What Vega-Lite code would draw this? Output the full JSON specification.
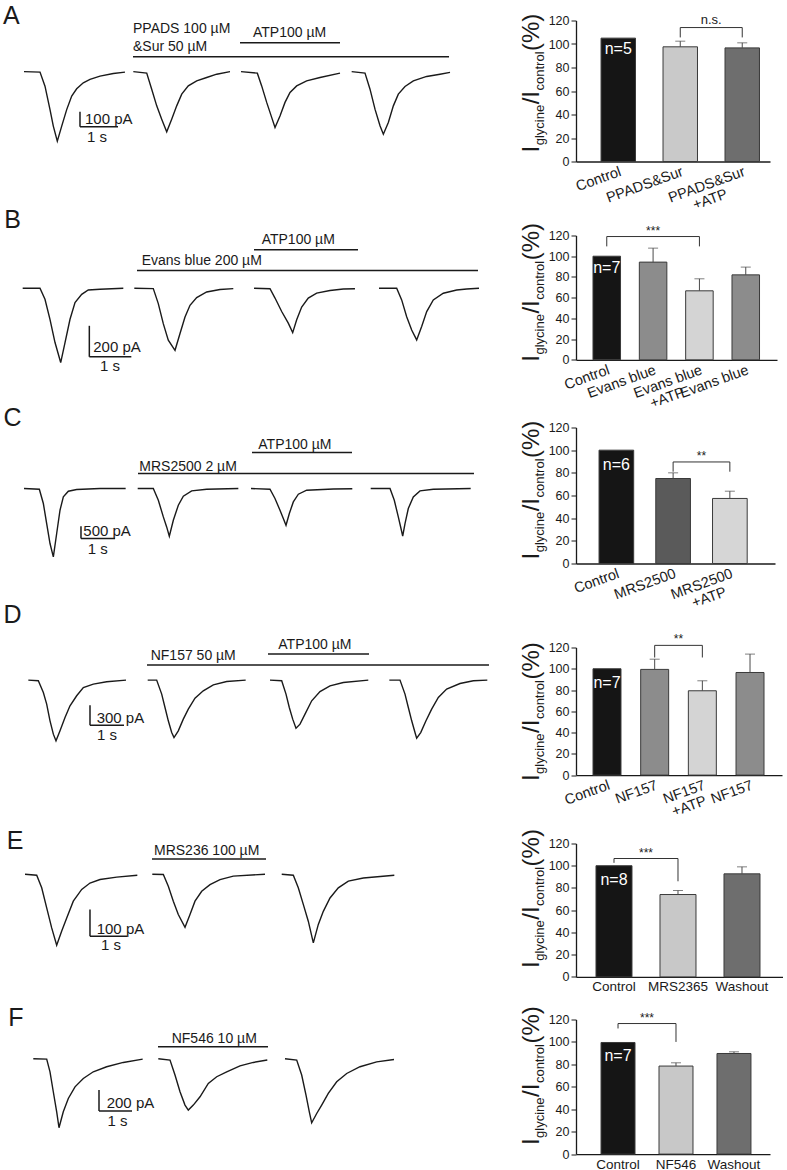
{
"$schema":"https://vega.github.io/schema/vega-lite/v6.json",
"padding":{"left":0,"top":3.5,"right":0,"bottom":0},
"background":"white",
"columns":2,
"spacing":{"row":42,"column":81},
"bounds":"flush",
"align":"each",
"resolve":{"scale":{"color":"independent"}},
"config":{
 "view":{"stroke":null},
 "font":"Liberation Sans",
 "text":{"font":"Liberation Sans","fontSize":14,"color":"#1a1a1a","baseline":"middle","align":"left"},
 "rule":{"color":"#1a1a1a","strokeWidth":1.5},
 "line":{"color":"#1a1a1a","strokeWidth":1.4},
 "axis":{"labelFont":"Liberation Sans","labelColor":"#1a1a1a","domainColor":"#1a1a1a","tickColor":"#1a1a1a","grid":false,"labelOverlap":false}
},
"datasets":{
 "trA":[
  {"sweep":1,"t":0.632,"I":0},{"sweep":1,"t":1.053,"I":-3},{"sweep":1,"t":1.184,"I":-97},{"sweep":1,"t":1.316,"I":-253},{"sweep":1,"t":1.403,"I":-363},{"sweep":1,"t":1.508,"I":-463},{"sweep":1,"t":1.624,"I":-363},{"sweep":1,"t":1.755,"I":-253},{"sweep":1,"t":1.887,"I":-163},{"sweep":1,"t":2.018,"I":-114},{"sweep":1,"t":2.192,"I":-74},{"sweep":1,"t":2.368,"I":-52},{"sweep":1,"t":2.632,"I":-30},{"sweep":1,"t":2.982,"I":-12},{"sweep":1,"t":3.289,"I":-3},
  {"sweep":2,"t":3.508,"I":0},{"sweep":2,"t":3.861,"I":-10},{"sweep":2,"t":3.992,"I":-117},{"sweep":2,"t":4.124,"I":-228},{"sweep":2,"t":4.255,"I":-317},{"sweep":2,"t":4.387,"I":-401},{"sweep":2,"t":4.518,"I":-317},{"sweep":2,"t":4.65,"I":-228},{"sweep":2,"t":4.782,"I":-150},{"sweep":2,"t":4.955,"I":-95},{"sweep":2,"t":5.176,"I":-61},{"sweep":2,"t":5.439,"I":-39},{"sweep":2,"t":5.703,"I":-17},{"sweep":2,"t":6.053,"I":0},
  {"sweep":3,"t":6.342,"I":0},{"sweep":3,"t":6.772,"I":-10},{"sweep":3,"t":6.886,"I":-95},{"sweep":3,"t":7.018,"I":-205},{"sweep":3,"t":7.149,"I":-305},{"sweep":3,"t":7.237,"I":-372},{"sweep":3,"t":7.368,"I":-295},{"sweep":3,"t":7.5,"I":-205},{"sweep":3,"t":7.632,"I":-139},{"sweep":3,"t":7.807,"I":-95},{"sweep":3,"t":8.07,"I":-61},{"sweep":3,"t":8.421,"I":-39},{"sweep":3,"t":8.947,"I":-10},
  {"sweep":4,"t":9.254,"I":0},{"sweep":4,"t":9.605,"I":-10},{"sweep":4,"t":9.737,"I":-117},{"sweep":4,"t":9.868,"I":-250},{"sweep":4,"t":10.0,"I":-361},{"sweep":4,"t":10.088,"I":-417},{"sweep":4,"t":10.219,"I":-339},{"sweep":4,"t":10.351,"I":-228},{"sweep":4,"t":10.482,"I":-150},{"sweep":4,"t":10.658,"I":-99},{"sweep":4,"t":10.877,"I":-61},{"sweep":4,"t":11.228,"I":-32},{"sweep":4,"t":11.579,"I":-17},{"sweep":4,"t":11.842,"I":-5}
 ],
 "trB":[
  {"sweep":1,"t":0.54,"I":0},{"sweep":1,"t":0.952,"I":0},{"sweep":1,"t":1.071,"I":-71},{"sweep":1,"t":1.19,"I":-200},{"sweep":1,"t":1.31,"I":-350},{"sweep":1,"t":1.445,"I":-479},{"sweep":1,"t":1.548,"I":-350},{"sweep":1,"t":1.667,"I":-200},{"sweep":1,"t":1.786,"I":-92},{"sweep":1,"t":1.945,"I":-39},{"sweep":1,"t":2.102,"I":-11},{"sweep":1,"t":2.381,"I":-6},{"sweep":1,"t":2.936,"I":0},
  {"sweep":2,"t":3.198,"I":0},{"sweep":2,"t":3.65,"I":-2},{"sweep":2,"t":3.769,"I":-99},{"sweep":2,"t":3.888,"I":-228},{"sweep":2,"t":4.007,"I":-335},{"sweep":2,"t":4.167,"I":-400},{"sweep":2,"t":4.286,"I":-292},{"sweep":2,"t":4.405,"I":-185},{"sweep":2,"t":4.524,"I":-110},{"sweep":2,"t":4.683,"I":-60},{"sweep":2,"t":4.921,"I":-24},{"sweep":2,"t":5.238,"I":-8},{"sweep":2,"t":5.555,"I":-2},
  {"sweep":3,"t":6.048,"I":0},{"sweep":3,"t":6.429,"I":-3},{"sweep":3,"t":6.548,"I":-63},{"sweep":3,"t":6.707,"I":-150},{"sweep":3,"t":6.864,"I":-225},{"sweep":3,"t":6.969,"I":-286},{"sweep":3,"t":7.064,"I":-203},{"sweep":3,"t":7.183,"I":-121},{"sweep":3,"t":7.34,"I":-63},{"sweep":3,"t":7.54,"I":-31},{"sweep":3,"t":7.857,"I":-14},{"sweep":3,"t":8.174,"I":-5},{"sweep":3,"t":8.452,"I":-3},
  {"sweep":4,"t":9.024,"I":0},{"sweep":4,"t":9.445,"I":0},{"sweep":4,"t":9.564,"I":-75},{"sweep":4,"t":9.683,"I":-183},{"sweep":4,"t":9.802,"I":-269},{"sweep":4,"t":9.921,"I":-333},{"sweep":4,"t":10.04,"I":-247},{"sweep":4,"t":10.16,"I":-150},{"sweep":4,"t":10.317,"I":-75},{"sweep":4,"t":10.555,"I":-32},{"sweep":4,"t":10.874,"I":-11},{"sweep":4,"t":11.112,"I":-5},{"sweep":4,"t":11.405,"I":0}
 ],
 "trC":[
  {"sweep":1,"t":0.706,"I":0},{"sweep":1,"t":1.157,"I":-28},{"sweep":1,"t":1.275,"I":-610},{"sweep":1,"t":1.373,"I":-1423},{"sweep":1,"t":1.471,"I":-2236},{"sweep":1,"t":1.569,"I":-2780},{"sweep":1,"t":1.667,"I":-1829},{"sweep":1,"t":1.765,"I":-882},{"sweep":1,"t":1.863,"I":-341},{"sweep":1,"t":2.01,"I":-110},{"sweep":1,"t":2.255,"I":-41},{"sweep":1,"t":2.941,"I":0},{"sweep":1,"t":3.696,"I":0},
  {"sweep":2,"t":4.05,"I":0},{"sweep":2,"t":4.509,"I":0},{"sweep":2,"t":4.657,"I":-476},{"sweep":2,"t":4.804,"I":-1154},{"sweep":2,"t":4.902,"I":-1561},{"sweep":2,"t":4.98,"I":-1939},{"sweep":2,"t":5.098,"I":-1289},{"sweep":2,"t":5.245,"I":-679},{"sweep":2,"t":5.392,"I":-313},{"sweep":2,"t":5.637,"I":-98},{"sweep":2,"t":6.078,"I":-28},{"sweep":2,"t":7.01,"I":0},
  {"sweep":3,"t":7.382,"I":0},{"sweep":3,"t":7.941,"I":-28},{"sweep":3,"t":8.088,"I":-407},{"sweep":3,"t":8.235,"I":-882},{"sweep":3,"t":8.333,"I":-1220},{"sweep":3,"t":8.412,"I":-1492},{"sweep":3,"t":8.51,"I":-1016},{"sweep":3,"t":8.627,"I":-545},{"sweep":3,"t":8.775,"I":-232},{"sweep":3,"t":9.02,"I":-69},{"sweep":3,"t":9.804,"I":-20},{"sweep":3,"t":10.362,"I":-10},
  {"sweep":4,"t":10.903,"I":0},{"sweep":4,"t":11.471,"I":0},{"sweep":4,"t":11.597,"I":-476},{"sweep":4,"t":11.715,"I":-1154},{"sweep":4,"t":11.794,"I":-1626},{"sweep":4,"t":11.844,"I":-1939},{"sweep":4,"t":11.912,"I":-1423},{"sweep":4,"t":12.009,"I":-813},{"sweep":4,"t":12.156,"I":-341},{"sweep":4,"t":12.353,"I":-98},{"sweep":4,"t":12.744,"I":-28},{"sweep":4,"t":13.844,"I":0}
 ],
 "trD":[
  {"sweep":1,"t":0.833,"I":0},{"sweep":1,"t":1.127,"I":-10},{"sweep":1,"t":1.275,"I":-186},{"sweep":1,"t":1.373,"I":-360},{"sweep":1,"t":1.471,"I":-610},{"sweep":1,"t":1.569,"I":-810},{"sweep":1,"t":1.647,"I":-910},{"sweep":1,"t":1.765,"I":-760},{"sweep":1,"t":1.912,"I":-561},{"sweep":1,"t":2.059,"I":-385},{"sweep":1,"t":2.255,"I":-235},{"sweep":1,"t":2.451,"I":-111},{"sweep":1,"t":2.745,"I":-60},{"sweep":1,"t":3.137,"I":-25},{"sweep":1,"t":3.706,"I":0},
  {"sweep":2,"t":4.344,"I":0},{"sweep":2,"t":4.608,"I":0},{"sweep":2,"t":4.756,"I":-210},{"sweep":2,"t":4.853,"I":-411},{"sweep":2,"t":4.95,"I":-610},{"sweep":2,"t":5.05,"I":-786},{"sweep":2,"t":5.118,"I":-861},{"sweep":2,"t":5.244,"I":-760},{"sweep":2,"t":5.391,"I":-585},{"sweep":2,"t":5.538,"I":-435},{"sweep":2,"t":5.735,"I":-270},{"sweep":2,"t":5.979,"I":-160},{"sweep":2,"t":6.274,"I":-70},{"sweep":2,"t":6.668,"I":-21},{"sweep":2,"t":7.226,"I":0},
  {"sweep":3,"t":7.941,"I":0},{"sweep":3,"t":8.285,"I":-10},{"sweep":3,"t":8.412,"I":-210},{"sweep":3,"t":8.509,"I":-411},{"sweep":3,"t":8.609,"I":-585},{"sweep":3,"t":8.706,"I":-720},{"sweep":3,"t":8.824,"I":-660},{"sweep":3,"t":8.971,"I":-510},{"sweep":3,"t":9.168,"I":-310},{"sweep":3,"t":9.412,"I":-171},{"sweep":3,"t":9.706,"I":-85},{"sweep":3,"t":10.097,"I":-36},{"sweep":3,"t":10.832,"I":0},
  {"sweep":4,"t":11.451,"I":0},{"sweep":4,"t":11.765,"I":0},{"sweep":4,"t":11.912,"I":-210},{"sweep":4,"t":12.01,"I":-411},{"sweep":4,"t":12.109,"I":-610},{"sweep":4,"t":12.206,"I":-786},{"sweep":4,"t":12.255,"I":-870},{"sweep":4,"t":12.374,"I":-786},{"sweep":4,"t":12.529,"I":-610},{"sweep":4,"t":12.696,"I":-435},{"sweep":4,"t":12.892,"I":-261},{"sweep":4,"t":13.137,"I":-135},{"sweep":4,"t":13.529,"I":-51},{"sweep":4,"t":13.922,"I":-10},{"sweep":4,"t":14.333,"I":0}
 ],
 "trE":[
  {"sweep":1,"t":0.676,"I":0},{"sweep":1,"t":0.992,"I":-4},{"sweep":1,"t":1.127,"I":-51},{"sweep":1,"t":1.262,"I":-126},{"sweep":1,"t":1.397,"I":-201},{"sweep":1,"t":1.532,"I":-266},{"sweep":1,"t":1.668,"I":-213},{"sweep":1,"t":1.803,"I":-164},{"sweep":1,"t":1.981,"I":-101},{"sweep":1,"t":2.208,"I":-57},{"sweep":1,"t":2.432,"I":-33},{"sweep":1,"t":2.703,"I":-20},{"sweep":1,"t":3.154,"I":-11},{"sweep":1,"t":3.711,"I":-4},
  {"sweep":2,"t":4.116,"I":0},{"sweep":2,"t":4.414,"I":-1},{"sweep":2,"t":4.549,"I":-45},{"sweep":2,"t":4.684,"I":-101},{"sweep":2,"t":4.819,"I":-151},{"sweep":2,"t":5.0,"I":-199},{"sweep":2,"t":5.135,"I":-151},{"sweep":2,"t":5.27,"I":-101},{"sweep":2,"t":5.451,"I":-64},{"sweep":2,"t":5.676,"I":-39},{"sweep":2,"t":5.946,"I":-20},{"sweep":2,"t":6.305,"I":-7},{"sweep":2,"t":7.162,"I":0},
  {"sweep":3,"t":7.614,"I":0},{"sweep":3,"t":7.927,"I":-4},{"sweep":3,"t":8.062,"I":-51},{"sweep":3,"t":8.197,"I":-113},{"sweep":3,"t":8.332,"I":-176},{"sweep":3,"t":8.468,"I":-257},{"sweep":3,"t":8.603,"I":-188},{"sweep":3,"t":8.738,"I":-139},{"sweep":3,"t":8.919,"I":-89},{"sweep":3,"t":9.143,"I":-51},{"sweep":3,"t":9.414,"I":-26},{"sweep":3,"t":9.819,"I":-14},{"sweep":3,"t":10.657,"I":-4}
 ],
 "trF":[
  {"sweep":1,"t":1.009,"I":0},{"sweep":1,"t":1.415,"I":-3},{"sweep":1,"t":1.515,"I":-124},{"sweep":1,"t":1.615,"I":-314},{"sweep":1,"t":1.718,"I":-505},{"sweep":1,"t":1.788,"I":-657},{"sweep":1,"t":1.918,"I":-505},{"sweep":1,"t":2.07,"I":-378},{"sweep":1,"t":2.273,"I":-267},{"sweep":1,"t":2.524,"I":-188},{"sweep":1,"t":2.827,"I":-124},{"sweep":1,"t":3.233,"I":-76},{"sweep":1,"t":3.736,"I":-35},{"sweep":1,"t":4.324,"I":-3},
  {"sweep":2,"t":4.797,"I":0},{"sweep":2,"t":5.152,"I":-12},{"sweep":2,"t":5.303,"I":-155},{"sweep":2,"t":5.455,"I":-314},{"sweep":2,"t":5.606,"I":-441},{"sweep":2,"t":5.706,"I":-489},{"sweep":2,"t":5.858,"I":-441},{"sweep":2,"t":6.061,"I":-362},{"sweep":2,"t":6.312,"I":-235},{"sweep":2,"t":6.567,"I":-171},{"sweep":2,"t":6.87,"I":-124},{"sweep":2,"t":7.273,"I":-67},{"sweep":2,"t":7.676,"I":-35},{"sweep":2,"t":8.1,"I":-12},
  {"sweep":3,"t":8.636,"I":0},{"sweep":3,"t":8.991,"I":-12},{"sweep":3,"t":9.142,"I":-155},{"sweep":3,"t":9.273,"I":-346},{"sweep":3,"t":9.373,"I":-505},{"sweep":3,"t":9.445,"I":-610},{"sweep":3,"t":9.597,"I":-521},{"sweep":3,"t":9.748,"I":-441},{"sweep":3,"t":9.948,"I":-330},{"sweep":3,"t":10.203,"I":-219},{"sweep":3,"t":10.506,"I":-140},{"sweep":3,"t":10.909,"I":-76},{"sweep":3,"t":11.415,"I":-29},{"sweep":3,"t":11.939,"I":-7}
 ]
},
"concat":[
 {"width":495,"height":172.7,"data":{"values":[{}]},"layer":[
  {"data":{"name":"trA"},"mark":"line","encoding":{"x":{"field":"t","type":"quantitative","scale":{"domain":[0,13.026],"nice":false,"zero":false},"axis":null},"y":{"field":"I","type":"quantitative","scale":{"domain":[-810.3,341],"nice":false,"zero":false},"axis":null},"detail":{"field":"sweep","type":"nominal"}}},
  {"mark":"rule","encoding":{"x":{"datum":3.5},"x2":{"datum":11.816},"y":{"datum":100}}},
  {"mark":"rule","encoding":{"x":{"datum":6.316},"x2":{"datum":8.947},"y":{"datum":193}}},
  {"mark":{"type":"text","text":"PPADS 100 µM"},"encoding":{"x":{"datum":3.5},"y":{"datum":287}}},
  {"mark":{"type":"text","text":"&Sur 50 µM"},"encoding":{"x":{"datum":3.5},"y":{"datum":163}}},
  {"mark":{"type":"text","text":"ATP100 µM"},"encoding":{"x":{"datum":6.658},"y":{"datum":260}}},
  {"mark":"rule","encoding":{"x":{"datum":2.105},"y":{"datum":-267},"y2":{"datum":-367}}},
  {"mark":"rule","encoding":{"x":{"datum":2.105},"x2":{"datum":3.105},"y":{"datum":-367}}},
  {"mark":{"type":"text","text":"100 pA","fontSize":15},"encoding":{"x":{"datum":2.237},"y":{"datum":-313}}},
  {"mark":{"type":"text","text":"1 s","fontSize":15,"align":"center"},"encoding":{"x":{"datum":2.55},"y":{"datum":-433}}},
  {"mark":{"type":"text","text":"A","fontSize":25},"encoding":{"x":{"datum":0.08},"y":{"datum":372}}}
 ]},
 {"width":194,"height":141,
  "data":{"values":[{"cond":"Control","mean":105,"hi":105,"n":"n=5"},{"cond":"PPADS&Sur","mean":97.6,"hi":102.4},{"cond":"PPADS&Sur\n+ATP","mean":96.7,"hi":101}]},
  "layer":[
   {"mark":{"type":"bar","stroke":"#3a3a3a","strokeWidth":1},"encoding":{
     "x":{"field":"cond","type":"nominal","scale":{"domain":["Control","PPADS&Sur","PPADS&Sur\n+ATP"],"paddingInner":0.444,"paddingOuter":0.287,"align":0.704},"axis":{"title":null,"ticks":false,"labelAngle":-20,"labelFontSize":14.5,"labelPadding":3,"labelLineHeight":15,"labelExpr":"split(replace(datum.label, '+ATP', '+ATP\u00a0\u00a0\u00a0\u00a0\u00a0\u00a0\u200b'), '\\n')","domainWidth":1.3}},
     "y":{"field":"mean","type":"quantitative","scale":{"domain":[0,120],"nice":false},"axis":{"title":null,"values":[0,20,40,60,80,100,120],"tickCount":7,"tickSize":5,"labelFontSize":12.5,"labelPadding":2,"domainWidth":1.3}},
     "color":{"field":"cond","type":"nominal","scale":{"domain":["Control","PPADS&Sur","PPADS&Sur\n+ATP"],"range":["#151515","#c9c9c9","#6e6e6e"]},"legend":null}}},
   {"transform":[{"filter":"datum.hi > datum.mean"}],"mark":{"type":"rule","color":"#4a4a4a","strokeWidth":1},"encoding":{"x":{"field":"cond","type":"nominal"},"y":{"field":"mean","type":"quantitative"},"y2":{"field":"hi"}}},
   {"transform":[{"filter":"datum.hi > datum.mean"}],"mark":{"type":"tick","orient":"horizontal","size":10,"thickness":1,"color":"#4a4a4a"},"encoding":{"x":{"field":"cond","type":"nominal"},"y":{"field":"hi","type":"quantitative"}}},
   {"transform":[{"filter":"isValid(datum.n)"}],"mark":{"type":"text","color":"white","fontSize":16,"align":"center"},"encoding":{"x":{"field":"cond","type":"nominal"},"y":{"datum":96,"type":"quantitative"},"text":{"field":"n"}}},
   {"data":{"values":[{}]},"mark":{"type":"rule","color":"#333","strokeWidth":1},"encoding":{"x":{"datum":"PPADS&Sur","type":"nominal","bandPosition":0.5},"x2":{"datum":"PPADS&Sur\n+ATP","bandPosition":0.5},"y":{"datum":114,"type":"quantitative"}}},
   {"data":{"values":[{}]},"mark":{"type":"rule","color":"#333","strokeWidth":1},"encoding":{"x":{"datum":"PPADS&Sur","type":"nominal"},"y":{"datum":114,"type":"quantitative"},"y2":{"datum":105.6}}},
   {"data":{"values":[{}]},"mark":{"type":"rule","color":"#333","strokeWidth":1},"encoding":{"x":{"datum":"PPADS&Sur\n+ATP","type":"nominal"},"y":{"datum":114,"type":"quantitative"},"y2":{"datum":105.6}}},
   {"data":{"values":[{}]},"mark":{"type":"text","text":"n.s.","fontSize":13,"align":"center","baseline":"bottom","dx":31,"dy":-1},"encoding":{"x":{"datum":"PPADS&Sur","type":"nominal"},"y":{"datum":114,"type":"quantitative"}}},
   {"data":{"values":[{}]},"mark":{"type":"text","text":"I","angle":270,"fontSize":24,"baseline":"alphabetic","dx":9,"dy":-79},"encoding":{"x":{"datum":"Control","type":"nominal"},"y":{"datum":0,"type":"quantitative"}}},
   {"data":{"values":[{}]},"mark":{"type":"text","text":"glycine","angle":270,"fontSize":13,"baseline":"alphabetic","dx":16.2,"dy":-74},"encoding":{"x":{"datum":"Control","type":"nominal"},"y":{"datum":0,"type":"quantitative"}}},
   {"data":{"values":[{}]},"mark":{"type":"text","text":"/I","angle":270,"fontSize":24,"baseline":"alphabetic","dx":57.2,"dy":-79},"encoding":{"x":{"datum":"Control","type":"nominal"},"y":{"datum":0,"type":"quantitative"}}},
   {"data":{"values":[{}]},"mark":{"type":"text","text":"control","angle":270,"fontSize":13,"baseline":"alphabetic","dx":71,"dy":-74},"encoding":{"x":{"datum":"Control","type":"nominal"},"y":{"datum":0,"type":"quantitative"}}},
   {"data":{"values":[{}]},"mark":{"type":"text","text":"(%)","angle":270,"fontSize":24,"baseline":"alphabetic","dx":110.5,"dy":-79},"encoding":{"x":{"datum":"Control","type":"nominal"},"y":{"datum":0,"type":"quantitative"}}}
  ]},
 {"width":495,"height":149.6,"data":{"values":[{}]},"layer":[
  {"data":{"name":"trB"},"mark":"line","encoding":{"x":{"field":"t","type":"quantitative","scale":{"domain":[0,11.786],"nice":false,"zero":false},"axis":null},"y":{"field":"I","type":"quantitative","scale":{"domain":[-624.6,340.6],"nice":false,"zero":false},"axis":null},"detail":{"field":"sweep","type":"nominal"}}},
  {"mark":"rule","encoding":{"x":{"datum":3.262},"x2":{"datum":11.381},"y":{"datum":115}}},
  {"mark":"rule","encoding":{"x":{"datum":6.048},"x2":{"datum":8.524},"y":{"datum":248}}},
  {"mark":{"type":"text","text":"Evans blue 200 µM"},"encoding":{"x":{"datum":3.374},"y":{"datum":177}}},
  {"mark":{"type":"text","text":"ATP100 µM"},"encoding":{"x":{"datum":6.23},"y":{"datum":313}}},
  {"mark":"rule","encoding":{"x":{"datum":2.127},"y":{"datum":-242},"y2":{"datum":-442}}},
  {"mark":"rule","encoding":{"x":{"datum":2.127},"x2":{"datum":3.127},"y":{"datum":-442}}},
  {"mark":{"type":"text","text":"200 pA","fontSize":15},"encoding":{"x":{"datum":2.22},"y":{"datum":-377}}},
  {"mark":{"type":"text","text":"1 s","fontSize":15,"align":"center"},"encoding":{"x":{"datum":2.62},"y":{"datum":-503}}},
  {"mark":{"type":"text","text":"B","fontSize":25},"encoding":{"x":{"datum":0.1},"y":{"datum":440}}}
 ]},
 {"width":201,"height":124.3,
  "data":{"values":[{"cond":"Control","mean":100,"hi":100,"n":"n=7"},{"cond":"Evans blue","mean":94.3,"hi":107.8},{"cond":"Evans blue\n+ATP","mean":66.6,"hi":78.2},{"cond":"Evans blue\u200b","mean":82,"hi":89.5}]},
  "layer":[
   {"mark":{"type":"bar","stroke":"#3a3a3a","strokeWidth":1},"encoding":{
     "x":{"field":"cond","type":"nominal","scale":{"domain":["Control","Evans blue","Evans blue\n+ATP","Evans blue\u200b"],"paddingInner":0.406,"paddingOuter":0.372,"align":0.493},"axis":{"title":null,"ticks":false,"labelAngle":-20,"labelFontSize":14.5,"labelPadding":3,"labelLineHeight":15,"labelExpr":"split(replace(datum.label, '+ATP', '+ATP\u00a0\u00a0\u00a0\u00a0\u00a0\u00a0\u200b'), '\\n')","domainWidth":1.3}},
     "y":{"field":"mean","type":"quantitative","scale":{"domain":[0,120],"nice":false},"axis":{"title":null,"values":[0,20,40,60,80,100,120],"tickCount":7,"tickSize":5,"labelFontSize":12.5,"labelPadding":2,"domainWidth":1.3}},
     "color":{"field":"cond","type":"nominal","scale":{"domain":["Control","Evans blue","Evans blue\n+ATP","Evans blue\u200b"],"range":["#151515","#8c8c8c","#d4d4d4","#8c8c8c"]},"legend":null}}},
   {"transform":[{"filter":"datum.hi > datum.mean"}],"mark":{"type":"rule","color":"#4a4a4a","strokeWidth":1},"encoding":{"x":{"field":"cond","type":"nominal"},"y":{"field":"mean","type":"quantitative"},"y2":{"field":"hi"}}},
   {"transform":[{"filter":"datum.hi > datum.mean"}],"mark":{"type":"tick","orient":"horizontal","size":10,"thickness":1,"color":"#4a4a4a"},"encoding":{"x":{"field":"cond","type":"nominal"},"y":{"field":"hi","type":"quantitative"}}},
   {"transform":[{"filter":"isValid(datum.n)"}],"mark":{"type":"text","color":"white","fontSize":16,"align":"center"},"encoding":{"x":{"field":"cond","type":"nominal"},"y":{"datum":89,"type":"quantitative"},"text":{"field":"n"}}},
   {"data":{"values":[{}]},"mark":{"type":"rule","color":"#333","strokeWidth":1},"encoding":{"x":{"datum":"Control","type":"nominal","bandPosition":0.5},"x2":{"datum":"Evans blue\n+ATP","bandPosition":0.5},"y":{"datum":119,"type":"quantitative"}}},
   {"data":{"values":[{}]},"mark":{"type":"rule","color":"#333","strokeWidth":1},"encoding":{"x":{"datum":"Control","type":"nominal"},"y":{"datum":119,"type":"quantitative"},"y2":{"datum":109.5}}},
   {"data":{"values":[{}]},"mark":{"type":"rule","color":"#333","strokeWidth":1},"encoding":{"x":{"datum":"Evans blue\n+ATP","type":"nominal"},"y":{"datum":119,"type":"quantitative"},"y2":{"datum":109.5}}},
   {"data":{"values":[{}]},"mark":{"type":"text","text":"***","fontSize":12,"align":"center","baseline":"bottom","dx":46.3,"dy":1},"encoding":{"x":{"datum":"Control","type":"nominal"},"y":{"datum":119,"type":"quantitative"}}},
   {"data":{"values":[{}]},"mark":{"type":"text","text":"I","angle":270,"fontSize":24,"baseline":"alphabetic","dx":-2,"dy":-67.75},"encoding":{"x":{"datum":"Control","type":"nominal"},"y":{"datum":0,"type":"quantitative"}}},
   {"data":{"values":[{}]},"mark":{"type":"text","text":"glycine","angle":270,"fontSize":13,"baseline":"alphabetic","dx":5.2,"dy":-62.75},"encoding":{"x":{"datum":"Control","type":"nominal"},"y":{"datum":0,"type":"quantitative"}}},
   {"data":{"values":[{}]},"mark":{"type":"text","text":"/I","angle":270,"fontSize":24,"baseline":"alphabetic","dx":46.2,"dy":-67.75},"encoding":{"x":{"datum":"Control","type":"nominal"},"y":{"datum":0,"type":"quantitative"}}},
   {"data":{"values":[{}]},"mark":{"type":"text","text":"control","angle":270,"fontSize":13,"baseline":"alphabetic","dx":60,"dy":-62.75},"encoding":{"x":{"datum":"Control","type":"nominal"},"y":{"datum":0,"type":"quantitative"}}},
   {"data":{"values":[{}]},"mark":{"type":"text","text":"(%)","angle":270,"fontSize":24,"baseline":"alphabetic","dx":99.5,"dy":-67.75},"encoding":{"x":{"datum":"Control","type":"nominal"},"y":{"datum":0,"type":"quantitative"}}}
  ]},
 {"width":495,"height":177.4,"data":{"values":[{}]},"layer":[
  {"data":{"name":"trC"},"mark":"line","encoding":{"x":{"field":"t","type":"quantitative","scale":{"domain":[0,14.559],"nice":false,"zero":false},"axis":null},"y":{"field":"I","type":"quantitative","scale":{"domain":[-4731,2480],"nice":false,"zero":false},"axis":null},"detail":{"field":"sweep","type":"nominal"}}},
  {"mark":"rule","encoding":{"x":{"datum":4.059},"x2":{"datum":13.941},"y":{"datum":610}}},
  {"mark":"rule","encoding":{"x":{"datum":7.412},"x2":{"datum":10.353},"y":{"datum":1463}}},
  {"mark":{"type":"text","text":"MRS2500 2 µM"},"encoding":{"x":{"datum":4.097},"y":{"datum":886}}},
  {"mark":{"type":"text","text":"ATP100 µM"},"encoding":{"x":{"datum":7.597},"y":{"datum":1760}}},
  {"mark":"rule","encoding":{"x":{"datum":2.382},"y":{"datum":-1533},"y2":{"datum":-2033}}},
  {"mark":"rule","encoding":{"x":{"datum":2.382},"x2":{"datum":3.382},"y":{"datum":-2033}}},
  {"mark":{"type":"text","text":"500 pA","fontSize":15},"encoding":{"x":{"datum":2.45},"y":{"datum":-1736}}},
  {"mark":{"type":"text","text":"1 s","fontSize":15,"align":"center"},"encoding":{"x":{"datum":2.877},"y":{"datum":-2468}}},
  {"mark":{"type":"text","text":"C","fontSize":25},"encoding":{"x":{"datum":0.1},"y":{"datum":2858}}}
 ]},
 {"width":199,"height":136,
  "data":{"values":[{"cond":"Control","mean":100,"hi":100,"n":"n=6"},{"cond":"MRS2500","mean":75,"hi":80},{"cond":"MRS2500\n+ATP","mean":57.4,"hi":63.8}]},
  "layer":[
   {"mark":{"type":"bar","stroke":"#3a3a3a","strokeWidth":1},"encoding":{
     "x":{"field":"cond","type":"nominal","scale":{"domain":["Control","MRS2500","MRS2500\n+ATP"],"paddingInner":0.389,"paddingOuter":0.448,"align":0.453},"axis":{"title":null,"ticks":false,"labelAngle":-20,"labelFontSize":14.5,"labelPadding":3,"labelLineHeight":15,"labelExpr":"split(replace(datum.label, '+ATP', '+ATP\u00a0\u00a0\u00a0\u200b'), '\\n')","domainWidth":1.3}},
     "y":{"field":"mean","type":"quantitative","scale":{"domain":[0,120],"nice":false},"axis":{"title":null,"values":[0,20,40,60,80,100,120],"tickCount":7,"tickSize":5,"labelFontSize":12.5,"labelPadding":2,"domainWidth":1.3}},
     "color":{"field":"cond","type":"nominal","scale":{"domain":["Control","MRS2500","MRS2500\n+ATP"],"range":["#151515","#5a5a5a","#d6d6d6"]},"legend":null}}},
   {"transform":[{"filter":"datum.hi > datum.mean"}],"mark":{"type":"rule","color":"#4a4a4a","strokeWidth":1},"encoding":{"x":{"field":"cond","type":"nominal"},"y":{"field":"mean","type":"quantitative"},"y2":{"field":"hi"}}},
   {"transform":[{"filter":"datum.hi > datum.mean"}],"mark":{"type":"tick","orient":"horizontal","size":10,"thickness":1,"color":"#4a4a4a"},"encoding":{"x":{"field":"cond","type":"nominal"},"y":{"field":"hi","type":"quantitative"}}},
   {"transform":[{"filter":"isValid(datum.n)"}],"mark":{"type":"text","color":"white","fontSize":16,"align":"center"},"encoding":{"x":{"field":"cond","type":"nominal"},"y":{"datum":87,"type":"quantitative"},"text":{"field":"n"}}},
   {"data":{"values":[{}]},"mark":{"type":"rule","color":"#333","strokeWidth":1},"encoding":{"x":{"datum":"MRS2500","type":"nominal","bandPosition":0.5},"x2":{"datum":"MRS2500\n+ATP","bandPosition":0.5},"y":{"datum":89.6,"type":"quantitative"}}},
   {"data":{"values":[{}]},"mark":{"type":"rule","color":"#333","strokeWidth":1},"encoding":{"x":{"datum":"MRS2500","type":"nominal"},"y":{"datum":89.6,"type":"quantitative"},"y2":{"datum":81}}},
   {"data":{"values":[{}]},"mark":{"type":"rule","color":"#333","strokeWidth":1},"encoding":{"x":{"datum":"MRS2500\n+ATP","type":"nominal"},"y":{"datum":89.6,"type":"quantitative"},"y2":{"datum":81}}},
   {"data":{"values":[{}]},"mark":{"type":"text","text":"**","fontSize":12,"align":"center","baseline":"bottom","dx":28.4,"dy":1},"encoding":{"x":{"datum":"MRS2500","type":"nominal"},"y":{"datum":89.6,"type":"quantitative"}}},
   {"data":{"values":[{}]},"mark":{"type":"text","text":"I","angle":270,"fontSize":24,"baseline":"alphabetic","dx":4,"dy":-77.35},"encoding":{"x":{"datum":"Control","type":"nominal"},"y":{"datum":0,"type":"quantitative"}}},
   {"data":{"values":[{}]},"mark":{"type":"text","text":"glycine","angle":270,"fontSize":13,"baseline":"alphabetic","dx":11.2,"dy":-72.35},"encoding":{"x":{"datum":"Control","type":"nominal"},"y":{"datum":0,"type":"quantitative"}}},
   {"data":{"values":[{}]},"mark":{"type":"text","text":"/I","angle":270,"fontSize":24,"baseline":"alphabetic","dx":52.2,"dy":-77.35},"encoding":{"x":{"datum":"Control","type":"nominal"},"y":{"datum":0,"type":"quantitative"}}},
   {"data":{"values":[{}]},"mark":{"type":"text","text":"control","angle":270,"fontSize":13,"baseline":"alphabetic","dx":66,"dy":-72.35},"encoding":{"x":{"datum":"Control","type":"nominal"},"y":{"datum":0,"type":"quantitative"}}},
   {"data":{"values":[{}]},"mark":{"type":"text","text":"(%)","angle":270,"fontSize":24,"baseline":"alphabetic","dx":105.5,"dy":-77.35},"encoding":{"x":{"datum":"Control","type":"nominal"},"y":{"datum":0,"type":"quantitative"}}}
  ]},
 {"width":495,"height":153.6,"data":{"values":[{}]},"layer":[
  {"data":{"name":"trD"},"mark":"line","encoding":{"x":{"field":"t","type":"quantitative","scale":{"domain":[0,14.559],"nice":false,"zero":false},"axis":null},"y":{"field":"I","type":"quantitative","scale":{"domain":[-1814,489],"nice":false,"zero":false},"axis":null},"detail":{"field":"sweep","type":"nominal"}}},
  {"mark":"rule","encoding":{"x":{"datum":4.324},"x2":{"datum":14.382},"y":{"datum":225}}},
  {"mark":"rule","encoding":{"x":{"datum":7.882},"x2":{"datum":10.853},"y":{"datum":390}}},
  {"mark":{"type":"text","text":"NF157 50 µM"},"encoding":{"x":{"datum":4.432},"y":{"datum":357}}},
  {"mark":{"type":"text","text":"ATP100 µM"},"encoding":{"x":{"datum":8.186},"y":{"datum":522}}},
  {"mark":"rule","encoding":{"x":{"datum":2.647},"y":{"datum":-375},"y2":{"datum":-675}}},
  {"mark":"rule","encoding":{"x":{"datum":2.647},"x2":{"datum":3.647},"y":{"datum":-675}}},
  {"mark":{"type":"text","text":"300 pA","fontSize":15},"encoding":{"x":{"datum":2.843},"y":{"datum":-561}}},
  {"mark":{"type":"text","text":"1 s","fontSize":15,"align":"center"},"encoding":{"x":{"datum":3.147},"y":{"datum":-820}}},
  {"mark":{"type":"text","text":"D","fontSize":25},"encoding":{"x":{"datum":0.1},"y":{"datum":979}}}
 ]},
 {"width":206,"height":127.6,
  "data":{"values":[{"cond":"Control","mean":100,"hi":100,"n":"n=7"},{"cond":"NF157","mean":99.4,"hi":109},{"cond":"NF157\n+ATP","mean":79.3,"hi":88.7},{"cond":"NF157\u200b","mean":96.5,"hi":113.8}]},
  "layer":[
   {"mark":{"type":"bar","stroke":"#3a3a3a","strokeWidth":1},"encoding":{
     "x":{"field":"cond","type":"nominal","scale":{"domain":["Control","NF157","NF157\n+ATP","NF157\u200b"],"paddingInner":0.413,"paddingOuter":0.367,"align":0.486},"axis":{"title":null,"ticks":false,"labelAngle":-20,"labelFontSize":14.5,"labelPadding":3,"labelLineHeight":15,"labelExpr":"split(replace(datum.label, '+ATP', '+ATP\u00a0\u200b'), '\\n')","domainWidth":1.3}},
     "y":{"field":"mean","type":"quantitative","scale":{"domain":[0,120],"nice":false},"axis":{"title":null,"values":[0,20,40,60,80,100,120],"tickCount":7,"tickSize":5,"labelFontSize":12.5,"labelPadding":2,"domainWidth":1.3}},
     "color":{"field":"cond","type":"nominal","scale":{"domain":["Control","NF157","NF157\n+ATP","NF157\u200b"],"range":["#151515","#8c8c8c","#d4d4d4","#8c8c8c"]},"legend":null}}},
   {"transform":[{"filter":"datum.hi > datum.mean"}],"mark":{"type":"rule","color":"#4a4a4a","strokeWidth":1},"encoding":{"x":{"field":"cond","type":"nominal"},"y":{"field":"mean","type":"quantitative"},"y2":{"field":"hi"}}},
   {"transform":[{"filter":"datum.hi > datum.mean"}],"mark":{"type":"tick","orient":"horizontal","size":10,"thickness":1,"color":"#4a4a4a"},"encoding":{"x":{"field":"cond","type":"nominal"},"y":{"field":"hi","type":"quantitative"}}},
   {"transform":[{"filter":"isValid(datum.n)"}],"mark":{"type":"text","color":"white","fontSize":16,"align":"center"},"encoding":{"x":{"field":"cond","type":"nominal"},"y":{"datum":86.4,"type":"quantitative"},"text":{"field":"n"}}},
   {"data":{"values":[{}]},"mark":{"type":"rule","color":"#333","strokeWidth":1},"encoding":{"x":{"datum":"NF157","type":"nominal","bandPosition":0.5},"x2":{"datum":"NF157\n+ATP","bandPosition":0.5},"y":{"datum":122,"type":"quantitative"}}},
   {"data":{"values":[{}]},"mark":{"type":"rule","color":"#333","strokeWidth":1},"encoding":{"x":{"datum":"NF157","type":"nominal"},"y":{"datum":122,"type":"quantitative"},"y2":{"datum":110.6}}},
   {"data":{"values":[{}]},"mark":{"type":"rule","color":"#333","strokeWidth":1},"encoding":{"x":{"datum":"NF157\n+ATP","type":"nominal"},"y":{"datum":122,"type":"quantitative"},"y2":{"datum":110.6}}},
   {"data":{"values":[{}]},"mark":{"type":"text","text":"**","fontSize":12,"align":"center","baseline":"bottom","dx":23.8,"dy":1},"encoding":{"x":{"datum":"NF157","type":"nominal"},"y":{"datum":122,"type":"quantitative"}}},
   {"data":{"values":[{}]},"mark":{"type":"text","text":"I","angle":270,"fontSize":24,"baseline":"alphabetic","dx":-6,"dy":-68},"encoding":{"x":{"datum":"Control","type":"nominal"},"y":{"datum":0,"type":"quantitative"}}},
   {"data":{"values":[{}]},"mark":{"type":"text","text":"glycine","angle":270,"fontSize":13,"baseline":"alphabetic","dx":1.2,"dy":-63},"encoding":{"x":{"datum":"Control","type":"nominal"},"y":{"datum":0,"type":"quantitative"}}},
   {"data":{"values":[{}]},"mark":{"type":"text","text":"/I","angle":270,"fontSize":24,"baseline":"alphabetic","dx":42.2,"dy":-68},"encoding":{"x":{"datum":"Control","type":"nominal"},"y":{"datum":0,"type":"quantitative"}}},
   {"data":{"values":[{}]},"mark":{"type":"text","text":"control","angle":270,"fontSize":13,"baseline":"alphabetic","dx":56,"dy":-63},"encoding":{"x":{"datum":"Control","type":"nominal"},"y":{"datum":0,"type":"quantitative"}}},
   {"data":{"values":[{}]},"mark":{"type":"text","text":"(%)","angle":270,"fontSize":24,"baseline":"alphabetic","dx":95.5,"dy":-68},"encoding":{"x":{"datum":"Control","type":"nominal"},"y":{"datum":0,"type":"quantitative"}}}
  ]},
 {"width":495,"height":133.4,"data":{"values":[{}]},"layer":[
  {"data":{"name":"trE"},"mark":"line","encoding":{"x":{"field":"t","type":"quantitative","scale":{"domain":[0,13.378],"nice":false,"zero":false},"axis":null},"y":{"field":"I","type":"quantitative","scale":{"domain":[-384.6,115],"nice":false,"zero":false},"axis":null},"detail":{"field":"sweep","type":"nominal"}}},
  {"mark":"rule","encoding":{"x":{"datum":4.108},"x2":{"datum":7.189},"y":{"datum":57}}},
  {"mark":{"type":"text","text":"MRS236 100 µM"},"encoding":{"x":{"datum":4.162},"y":{"datum":86}}},
  {"mark":"rule","encoding":{"x":{"datum":2.432},"y":{"datum":-132},"y2":{"datum":-232}}},
  {"mark":"rule","encoding":{"x":{"datum":2.432},"x2":{"datum":3.432},"y":{"datum":-232}}},
  {"mark":{"type":"text","text":"100 pA","fontSize":15},"encoding":{"x":{"datum":2.613},"y":{"datum":-206}}},
  {"mark":{"type":"text","text":"1 s","fontSize":15,"align":"center"},"encoding":{"x":{"datum":3.0},"y":{"datum":-266}}},
  {"mark":{"type":"text","text":"E","fontSize":25},"encoding":{"x":{"datum":0.18},"y":{"datum":124}}}
 ]},
 {"width":207,"height":133.4,
  "data":{"values":[{"cond":"Control","mean":100,"hi":100,"n":"n=8"},{"cond":"MRS2365","mean":74.1,"hi":77.7},{"cond":"Washout","mean":92.7,"hi":99}]},
  "layer":[
   {"mark":{"type":"bar","stroke":"#3a3a3a","strokeWidth":1},"encoding":{
     "x":{"field":"cond","type":"nominal","scale":{"domain":["Control","MRS2365","Washout"],"paddingInner":0.4375,"paddingOuter":0.336,"align":0.465},"axis":{"title":null,"ticks":false,"labelAngle":0,"labelFontSize":13.5,"labelPadding":3,"domainWidth":1.3}},
     "y":{"field":"mean","type":"quantitative","scale":{"domain":[0,120],"nice":false},"axis":{"title":null,"values":[0,20,40,60,80,100,120],"tickCount":7,"tickSize":5,"labelFontSize":12.5,"labelPadding":2,"domainWidth":1.3}},
     "color":{"field":"cond","type":"nominal","scale":{"domain":["Control","MRS2365","Washout"],"range":["#151515","#c8c8c8","#6e6e6e"]},"legend":null}}},
   {"transform":[{"filter":"datum.hi > datum.mean"}],"mark":{"type":"rule","color":"#4a4a4a","strokeWidth":1},"encoding":{"x":{"field":"cond","type":"nominal"},"y":{"field":"mean","type":"quantitative"},"y2":{"field":"hi"}}},
   {"transform":[{"filter":"datum.hi > datum.mean"}],"mark":{"type":"tick","orient":"horizontal","size":10,"thickness":1,"color":"#4a4a4a"},"encoding":{"x":{"field":"cond","type":"nominal"},"y":{"field":"hi","type":"quantitative"}}},
   {"transform":[{"filter":"isValid(datum.n)"}],"mark":{"type":"text","color":"white","fontSize":16,"align":"center"},"encoding":{"x":{"field":"cond","type":"nominal"},"y":{"datum":87,"type":"quantitative"},"text":{"field":"n"}}},
   {"data":{"values":[{}]},"mark":{"type":"rule","color":"#333","strokeWidth":1},"encoding":{"x":{"datum":"Control","type":"nominal","bandPosition":0.5},"x2":{"datum":"MRS2365","bandPosition":0.5},"y":{"datum":106.5,"type":"quantitative"}}},
   {"data":{"values":[{}]},"mark":{"type":"rule","color":"#333","strokeWidth":1},"encoding":{"x":{"datum":"Control","type":"nominal"},"y":{"datum":106.5,"type":"quantitative"},"y2":{"datum":102.6}}},
   {"data":{"values":[{}]},"mark":{"type":"rule","color":"#333","strokeWidth":1},"encoding":{"x":{"datum":"MRS2365","type":"nominal"},"y":{"datum":106.5,"type":"quantitative"},"y2":{"datum":86}}},
   {"data":{"values":[{}]},"mark":{"type":"text","text":"***","fontSize":12,"align":"center","baseline":"bottom","dx":32,"dy":1},"encoding":{"x":{"datum":"Control","type":"nominal"},"y":{"datum":106.5,"type":"quantitative"}}},
   {"data":{"values":[{}]},"mark":{"type":"text","text":"I","angle":270,"fontSize":24,"baseline":"alphabetic","dx":9,"dy":-75},"encoding":{"x":{"datum":"Control","type":"nominal"},"y":{"datum":0,"type":"quantitative"}}},
   {"data":{"values":[{}]},"mark":{"type":"text","text":"glycine","angle":270,"fontSize":13,"baseline":"alphabetic","dx":16.2,"dy":-70},"encoding":{"x":{"datum":"Control","type":"nominal"},"y":{"datum":0,"type":"quantitative"}}},
   {"data":{"values":[{}]},"mark":{"type":"text","text":"/I","angle":270,"fontSize":24,"baseline":"alphabetic","dx":57.2,"dy":-75},"encoding":{"x":{"datum":"Control","type":"nominal"},"y":{"datum":0,"type":"quantitative"}}},
   {"data":{"values":[{}]},"mark":{"type":"text","text":"control","angle":270,"fontSize":13,"baseline":"alphabetic","dx":71,"dy":-70},"encoding":{"x":{"datum":"Control","type":"nominal"},"y":{"datum":0,"type":"quantitative"}}},
   {"data":{"values":[{}]},"mark":{"type":"text","text":"(%)","angle":270,"fontSize":24,"baseline":"alphabetic","dx":110.5,"dy":-75},"encoding":{"x":{"datum":"Control","type":"nominal"},"y":{"datum":0,"type":"quantitative"}}}
  ]},
 {"width":495,"height":134.6,"data":{"values":[{}]},"layer":[
  {"data":{"name":"trF"},"mark":"line","encoding":{"x":{"field":"t","type":"quantitative","scale":{"domain":[0,15.0],"nice":false,"zero":false},"axis":null},"y":{"field":"I","type":"quantitative","scale":{"domain":[-907.9,374],"nice":false,"zero":false},"axis":null},"detail":{"field":"sweep","type":"nominal"}}},
  {"mark":"rule","encoding":{"x":{"datum":4.788},"x2":{"datum":8.121},"y":{"datum":114}}},
  {"mark":{"type":"text","text":"NF546 10 µM"},"encoding":{"x":{"datum":5.203},"y":{"datum":190}}},
  {"mark":"rule","encoding":{"x":{"datum":3.0},"y":{"datum":-298},"y2":{"datum":-498}}},
  {"mark":"rule","encoding":{"x":{"datum":3.0},"x2":{"datum":4.0},"y":{"datum":-498}}},
  {"mark":{"type":"text","text":"200 pA","fontSize":15},"encoding":{"x":{"datum":3.233},"y":{"datum":-419}}},
  {"mark":{"type":"text","text":"1 s","fontSize":15,"align":"center"},"encoding":{"x":{"datum":3.56},"y":{"datum":-590}}},
  {"mark":{"type":"text","text":"F","fontSize":25},"encoding":{"x":{"datum":0.25},"y":{"datum":390}}}
 ]},
 {"width":194,"height":134.6,
  "data":{"values":[{"cond":"Control","mean":99.5,"hi":99.5,"n":"n=7"},{"cond":"NF546","mean":78.5,"hi":81.4},{"cond":"Washout","mean":89.7,"hi":91.2}]},
  "layer":[
   {"mark":{"type":"bar","stroke":"#3a3a3a","strokeWidth":1},"encoding":{
     "x":{"field":"cond","type":"nominal","scale":{"domain":["Control","NF546","Washout"],"paddingInner":0.414,"paddingOuter":0.38,"align":0.568},"axis":{"title":null,"ticks":false,"labelAngle":0,"labelFontSize":13.5,"labelPadding":3,"domainWidth":1.3}},
     "y":{"field":"mean","type":"quantitative","scale":{"domain":[0,120],"nice":false},"axis":{"title":null,"values":[0,20,40,60,80,100,120],"tickCount":7,"tickSize":5,"labelFontSize":12.5,"labelPadding":2,"domainWidth":1.3}},
     "color":{"field":"cond","type":"nominal","scale":{"domain":["Control","NF546","Washout"],"range":["#151515","#c8c8c8","#6e6e6e"]},"legend":null}}},
   {"transform":[{"filter":"datum.hi > datum.mean"}],"mark":{"type":"rule","color":"#4a4a4a","strokeWidth":1},"encoding":{"x":{"field":"cond","type":"nominal"},"y":{"field":"mean","type":"quantitative"},"y2":{"field":"hi"}}},
   {"transform":[{"filter":"datum.hi > datum.mean"}],"mark":{"type":"tick","orient":"horizontal","size":10,"thickness":1,"color":"#4a4a4a"},"encoding":{"x":{"field":"cond","type":"nominal"},"y":{"field":"hi","type":"quantitative"}}},
   {"transform":[{"filter":"isValid(datum.n)"}],"mark":{"type":"text","color":"white","fontSize":16,"align":"center"},"encoding":{"x":{"field":"cond","type":"nominal"},"y":{"datum":87.7,"type":"quantitative"},"text":{"field":"n"}}},
   {"data":{"values":[{}]},"mark":{"type":"rule","color":"#333","strokeWidth":1},"encoding":{"x":{"datum":"Control","type":"nominal","bandPosition":0.5},"x2":{"datum":"NF546","bandPosition":0.5},"y":{"datum":116.4,"type":"quantitative"}}},
   {"data":{"values":[{}]},"mark":{"type":"rule","color":"#333","strokeWidth":1},"encoding":{"x":{"datum":"Control","type":"nominal"},"y":{"datum":116.4,"type":"quantitative"},"y2":{"datum":112}}},
   {"data":{"values":[{}]},"mark":{"type":"rule","color":"#333","strokeWidth":1},"encoding":{"x":{"datum":"NF546","type":"nominal"},"y":{"datum":116.4,"type":"quantitative"},"y2":{"datum":100}}},
   {"data":{"values":[{}]},"mark":{"type":"text","text":"***","fontSize":12,"align":"center","baseline":"bottom","dx":29,"dy":1},"encoding":{"x":{"datum":"Control","type":"nominal"},"y":{"datum":116.4,"type":"quantitative"}}},
   {"data":{"values":[{}]},"mark":{"type":"text","text":"I","angle":270,"fontSize":24,"baseline":"alphabetic","dx":9,"dy":-79},"encoding":{"x":{"datum":"Control","type":"nominal"},"y":{"datum":0,"type":"quantitative"}}},
   {"data":{"values":[{}]},"mark":{"type":"text","text":"glycine","angle":270,"fontSize":13,"baseline":"alphabetic","dx":16.2,"dy":-74},"encoding":{"x":{"datum":"Control","type":"nominal"},"y":{"datum":0,"type":"quantitative"}}},
   {"data":{"values":[{}]},"mark":{"type":"text","text":"/I","angle":270,"fontSize":24,"baseline":"alphabetic","dx":57.2,"dy":-79},"encoding":{"x":{"datum":"Control","type":"nominal"},"y":{"datum":0,"type":"quantitative"}}},
   {"data":{"values":[{}]},"mark":{"type":"text","text":"control","angle":270,"fontSize":13,"baseline":"alphabetic","dx":71,"dy":-74},"encoding":{"x":{"datum":"Control","type":"nominal"},"y":{"datum":0,"type":"quantitative"}}},
   {"data":{"values":[{}]},"mark":{"type":"text","text":"(%)","angle":270,"fontSize":24,"baseline":"alphabetic","dx":110.5,"dy":-79},"encoding":{"x":{"datum":"Control","type":"nominal"},"y":{"datum":0,"type":"quantitative"}}}
  ]}
]
}
